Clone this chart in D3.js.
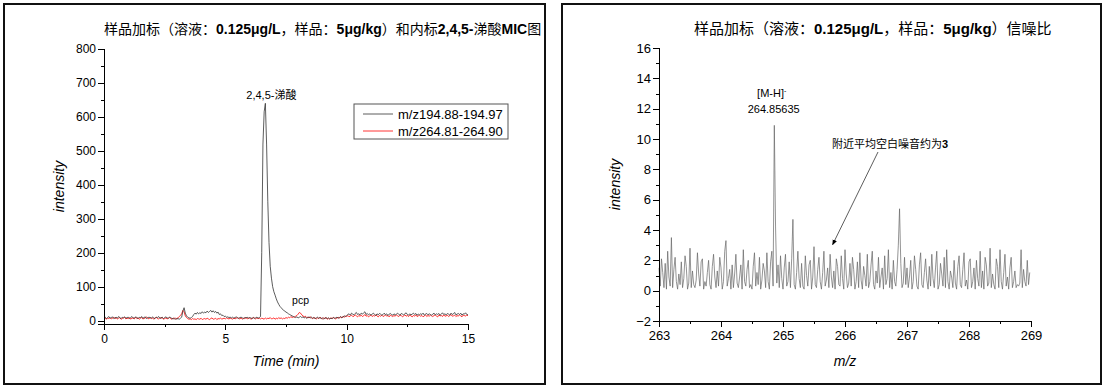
<!DOCTYPE html>
<html>
<head>
<meta charset="utf-8">
<script src="https://cdn.jsdelivr.net/npm/d3@7"></script>
<style>
  body { margin: 0; background: #fff; }
  svg { display: block; }
  .axis path, .axis line { stroke: #000; stroke-width: 1; shape-rendering: crispEdges; }
  .axis text { font-family: "Liberation Sans", Arial, sans-serif; fill: #000; }
  .cjk { font-family: "Noto Sans CJK SC", sans-serif; }
  .lat { font-family: "Liberation Sans", Arial, sans-serif; }
</style>
</head>
<body>
<div id="chart-area"></div>
<script>
// ---- left panel: extracted ion chromatograms, sampled every 0.05 min from 0 to 15 ----
const ticStart = 0;
const ticStep = 0.05;

const blackSeries = [
  // 0.00 - 3.15
  8,10,6,9,12,7,9,11,6,8,10,7,12,9,6,10,8,11,7,9,
  10,6,9,12,8,7,11,9,6,10,8,12,7,9,11,6,8,10,9,7,
  11,8,6,10,9,12,7,8,10,6,9,11,8,7,10,9,6,5,7,4,
  5,6,4,7,
  // 3.20 - 5.20
  10,28,38,22,14,10,8,7,9,12,18,22,19,24,20,23,21,26,22,25,
  23,28,24,27,30,25,29,24,27,22,25,18,20,15,16,12,13,10,11,9,10,
  // 5.25 - 6.40
  8,10,7,9,11,8,7,9,10,8,6,9,8,10,7,9,8,6,9,7,8,10,7,9,
  // 6.45 - 8.50
  12,200,520,615,640,520,350,230,160,125,100,85,75,64,55,48,42,38,34,30,
  28,25,23,20,18,16,14,12,11,9,11,8,10,12,9,11,8,10,7,9,11,8,
  // 8.55 - 9.95
  10,7,9,6,8,10,7,9,6,8,5,7,9,6,8,5,7,6,9,7,8,10,7,9,12,8,11,14,12,
  // 10.00 - 15.00
  15,18,20,16,22,19,17,21,24,18,20,17,22,19,23,26,18,21,17,20,
  16,19,22,18,15,20,17,21,19,16,18,22,17,20,15,19,21,18,16,20,
  17,19,22,18,16,21,19,17,20,23,18,16,20,17,19,22,18,21,16,19,
  17,20,18,22,16,19,21,17,20,18,16,19,22,17,20,18,21,16,19,23,
  18,20,17,21,19,16,22,18,20,24,17,19,21,18,22,16,20,19,23,18,17
];

const redSeries = [
  // 0.00 - 3.15
  5,7,4,8,6,9,5,7,10,6,8,5,7,9,4,6,8,10,5,7,
  6,9,4,8,7,5,10,6,8,4,7,9,5,6,8,11,7,5,9,6,
  8,4,7,10,6,5,8,7,9,4,6,8,5,7,9,6,4,8,5,7,
  6,8,12,15,
  // 3.20 - 5.20
  20,30,26,14,9,6,4,5,3,6,4,5,3,6,5,4,7,3,5,6,
  4,7,5,3,6,8,4,5,7,3,6,5,8,4,6,7,5,8,6,5,7,
  // 5.25 - 6.40
  6,4,8,5,7,9,6,5,8,4,7,6,9,5,7,8,4,6,9,7,5,8,6,7,
  // 6.45 - 8.50
  5,7,6,4,8,5,7,6,9,5,6,8,4,7,5,9,6,8,5,7,
  6,9,7,10,8,12,9,11,10,13,15,19,24,22,17,14,11,13,9,10,8,11,
  // 8.55 - 9.95
  8,6,9,7,5,8,6,10,7,5,8,6,9,4,7,5,8,6,9,7,5,8,10,7,11,9,12,10,13,
  // 10.00 - 15.00
  12,15,11,14,16,12,13,17,14,11,15,13,16,12,14,18,13,15,11,14,
  16,12,15,13,17,14,11,15,13,16,12,14,17,13,15,11,16,14,12,15,
  13,17,14,12,16,15,11,14,17,13,15,12,16,14,11,15,13,17,12,14,
  16,13,15,11,14,17,12,15,13,16,14,12,15,17,13,11,16,14,15,12,
  17,13,14,16,12,15,18,13,14,16,12,15,13,17,14,11,16,15,13,17,14
];

const ticSeriesNames = ['m/z194.88-194.97', 'm/z264.81-264.90'];
const ticColors = ['#333333', '#ff0000'];
const ticYTicks = [0, 100, 200, 300, 400, 500, 600, 700, 800];
const ticXTicks = [0, 5, 10, 15];

// ---- right panel: mass spectrum, every 0.02 from 263.00 ----
const msStart = 263;
const msStep = 0.02;
const msSeries = [
  1.5,0.3,2.1,1.2,0.2,1.8,0.1,2.6,0.9,0.3,3.5,0.2,1.4,2.2,0.6,0.1,1.1,0.4,1.9,0.2,
  0.8,2.3,1.6,0.1,0.5,2.8,0.2,1.3,0.4,0.2,0.7,2.5,1.1,0.3,1.9,2.1,0.1,0.6,0.3,1.2,
  2.0,0.4,0.1,1.6,2.4,0.9,0.2,1.3,0.3,2.2,1.5,0.1,0.6,2.6,3.3,0.3,0.8,1.4,0.1,1.7,
  0.2,1.1,2.4,0.5,0.2,0.9,1.7,0.1,2.7,0.6,0.3,1.4,2.0,0.2,0.4,0.1,1.6,2.5,0.3,1.2,
  0.4,2.2,0.1,0.7,1.8,1.3,0.2,2.5,0.6,0.1,1.9,2.6,0.3,10.9,4.2,0.5,1.7,0.2,2.3,0.8,
  0.1,1.5,2.4,0.3,0.6,1.9,0.2,2.1,4.7,0.4,0.1,1.2,2.6,0.8,0.2,1.8,0.3,0.1,2.3,1.0,
  0.3,1.7,2.0,0.1,0.9,2.9,0.4,0.2,1.4,2.2,0.6,0.1,1.2,2.6,0.3,0.7,1.5,0.2,2.4,0.9,
  0.2,1.3,0.1,2.1,1.6,0.4,0.3,2.3,0.8,0.1,2.7,1.1,0.2,0.5,1.8,0.3,2.2,1.4,0.1,0.6,
  1.9,0.2,2.5,0.7,0.1,1.6,1.0,0.3,2.4,0.2,0.6,1.7,2.6,0.4,0.1,1.3,0.5,2.2,0.2,0.9,
  1.5,0.1,2.3,0.4,0.8,2.7,0.2,1.2,0.1,2.0,0.6,0.3,1.4,3.0,5.4,1.8,0.2,0.5,2.2,0.4,
  1.5,0.2,0.9,2.0,0.1,0.6,2.3,1.4,0.3,0.1,1.7,2.5,0.4,0.2,1.2,2.1,0.7,0.1,1.6,0.3,
  2.4,0.8,0.2,1.5,2.6,0.1,0.4,1.8,1.1,0.3,2.2,0.2,2.7,0.6,0.1,1.3,0.9,0.2,2.0,0.5,
  0.1,1.6,2.3,0.4,0.2,1.4,2.5,0.3,0.7,0.1,1.9,2.1,0.2,0.6,1.5,0.1,2.0,0.8,0.3,2.6,
  0.2,1.3,0.1,2.2,1.7,0.3,0.5,2.8,0.2,1.1,0.4,0.1,2.1,1.6,0.2,2.7,0.6,0.1,1.2,2.4,
  0.3,0.9,0.1,1.5,2.2,0.2,0.6,1.3,0.2,0.4,0.3,0.5,2.7,0.2,1.4,0.6,0.3,2.0,0.4,1.2
];
const msYTicks = [-2, 0, 2, 4, 6, 8, 10, 12, 14, 16];
const msXTicks = [263, 264, 265, 266, 267, 268, 269];
const msPeak = { mz: 264.85635, label: '[M-H]', value: 10.9 };
const noiseNote = { text: '附近平均空白噪音约为3', mz: 265.8, value: 2.9 };

const svg = d3.select('#chart-area').append('svg')
  .attr('width', 1105)
  .attr('height', 387);

// panel frames
const frames = [[4, 4, 541, 380], [562, 4, 539, 380]];
svg.selectAll('rect.frame').data(frames).enter().append('rect')
  .attr('class', 'frame')
  .attr('x', d => d[0]).attr('y', d => d[1])
  .attr('width', d => d[2]).attr('height', d => d[3])
  .attr('fill', 'none').attr('stroke', '#111').attr('stroke-width', 2);

const addTitle = (x, size, parts) => {
  const t = svg.append('text').attr('x', x).attr('y', 34).attr('font-size', size);
  parts.forEach(([s, bold]) => {
    t.append('tspan')
      .attr('class', bold ? 'lat' : 'cjk')
      .attr('font-weight', bold ? 'bold' : 'normal')
      .text(s);
  });
};

// draw an Origin-style axis with major + minor ticks pointing outward
const drawAxis = (g, scale, orient, majors, minorStep, fontSize, translate) => {
  const axisFn = orient === 'left' ? d3.axisLeft : d3.axisBottom;
  const [d0, d1] = d3.extent(majors);
  const minors = d3.range(d0, d1 + 1e-9, minorStep).filter(v => !majors.some(m => Math.abs(m - v) < 1e-9));
  const ag = g.append('g').attr('class', 'axis').attr('transform', translate);
  ag.call(axisFn(scale).tickValues(minors).tickSize(3).tickFormat(''));
  const mg = g.append('g').attr('class', 'axis').attr('transform', translate);
  mg.call(axisFn(scale).tickValues(majors).tickSize(6).tickFormat(d3.format('d'))
    .tickPadding(orient === 'left' ? 2 : 4));
  mg.selectAll('text').attr('font-size', fontSize);
  return mg;
};

// ================= left panel =================
addTitle(104, 14, [['样品加标（溶液：', false], ['0.125μg/L', true], ['，样品：', false], ['5μg/kg', true],
  ['）和内标', false], ['2,4,5-', true], ['涕酸', false], ['MIC', true], ['图', false]]);

const xL = d3.scaleLinear().domain([0, 15]).range([104, 468]);
const yL = d3.scaleLinear().domain([-10, 800]).range([324, 49]);
const gL = svg.append('g');

const ticLine = d3.line()
  .x((d, i) => xL(ticStart + i * ticStep))
  .y(d => yL(d));

[redSeries, blackSeries].forEach((s, k) => {
  gL.append('path')
    .attr('d', ticLine(s))
    .attr('fill', 'none')
    .attr('stroke', k === 0 ? ticColors[1] : ticColors[0])
    .attr('stroke-width', 0.8)
    .attr('stroke-linejoin', 'round');
});

drawAxis(gL, yL, 'left', ticYTicks, 50, 12, `translate(${xL(0)},0)`);
drawAxis(gL, xL, 'bottom', ticXTicks, 2.5, 12, `translate(0,${yL(-10)})`);
gL.selectAll('.axis .domain').attr('stroke-width', 1.2);

gL.append('text').attr('class', 'lat')
  .attr('transform', `translate(64,${(yL(800) + yL(-10)) / 2}) rotate(-90)`)
  .attr('text-anchor', 'middle').attr('font-size', 14).attr('font-style', 'italic')
  .text('intensity');
gL.append('text').attr('class', 'lat')
  .attr('x', (xL(0) + xL(15)) / 2).attr('y', 366)
  .attr('text-anchor', 'middle').attr('font-size', 14).attr('font-style', 'italic')
  .text('Time (min)');

// peak labels
const peakT = ticStart + blackSeries.indexOf(d3.max(blackSeries)) * ticStep;
gL.append('text')
  .attr('x', xL(peakT) + 6).attr('y', yL(d3.max(blackSeries)) - 4)
  .attr('text-anchor', 'middle').attr('font-size', 11)
  .call(t => {
    t.append('tspan').attr('class', 'lat').text('2,4,5-');
    t.append('tspan').attr('class', 'cjk').text('涕酸');
  });
gL.append('text').attr('class', 'lat')
  .attr('x', xL(8.1)).attr('y', yL(48)).attr('text-anchor', 'middle')
  .attr('font-size', 10.5).text('pcp');

// legend
const leg = gL.append('g').attr('transform', 'translate(354,104)');
leg.append('rect').attr('width', 154).attr('height', 35)
  .attr('fill', '#fff').attr('stroke', '#555').attr('stroke-width', 1);
ticSeriesNames.forEach((name, i) => {
  const y = 10 + i * 17;
  leg.append('line').attr('x1', 9).attr('x2', 39).attr('y1', y).attr('y2', y)
    .attr('stroke', ticColors[i]).attr('stroke-width', 0.8);
  leg.append('text').attr('class', 'lat').attr('x', 44).attr('y', y + 5)
    .attr('font-size', 13).text(name);
});

// ================= right panel =================
addTitle(694, 15, [['样品加标（溶液：', false], ['0.125μg/L', true], ['，样品：', false], ['5μg/kg', true],
  ['）信噪比', false]]);

const xR = d3.scaleLinear().domain([263, 269]).range([659, 1031]);
const yR = d3.scaleLinear().domain([-2, 16]).range([321, 48]);
const gR = svg.append('g');

const msLine = d3.line()
  .x((d, i) => xR(msStart + i * msStep))
  .y(d => yR(d));
gR.append('path')
  .attr('d', msLine(msSeries))
  .attr('fill', 'none').attr('stroke', '#666').attr('stroke-width', 0.7);

drawAxis(gR, yR, 'left', msYTicks, 1, 13, `translate(${xR(263)},0)`);
drawAxis(gR, xR, 'bottom', msXTicks, 0.5, 13, `translate(0,${yR(-2)})`);
gR.selectAll('.axis .domain').attr('stroke-width', 1.2);

gR.append('text').attr('class', 'lat')
  .attr('transform', `translate(620,${(yR(16) + yR(-2)) / 2}) rotate(-90)`)
  .attr('text-anchor', 'middle').attr('font-size', 14).attr('font-style', 'italic')
  .text('intensity');
gR.append('text').attr('class', 'lat')
  .attr('x', (xR(263) + xR(269)) / 2).attr('y', 366)
  .attr('text-anchor', 'middle').attr('font-size', 14).attr('font-style', 'italic')
  .text('m/z');

// molecular ion label
const pk = gR.append('g').attr('class', 'lat').attr('font-size', 11).attr('text-anchor', 'middle');
pk.append('text').attr('x', xR(264.85) - 2).attr('y', yR(msPeak.value) - 28)
  .call(t => {
    t.append('tspan').text(msPeak.label);
    t.append('tspan').attr('font-size', 7).attr('dy', -4).text('-');
  });
pk.append('text').attr('x', xR(264.85)).attr('y', yR(msPeak.value) - 12).text(msPeak.mz.toFixed(5));

// noise annotation with arrow
svg.append('defs').append('marker')
  .attr('id', 'arrow').attr('viewBox', '0 0 10 10').attr('refX', 9).attr('refY', 5)
  .attr('markerWidth', 7).attr('markerHeight', 7).attr('orient', 'auto')
  .append('path').attr('d', 'M0,1 L10,5 L0,9 Z').attr('fill', '#000');
gR.append('text').attr('class', 'cjk')
  .attr('x', 832).attr('y', 148).attr('font-size', 11)
  .call(t => {
    t.append('tspan').text(noiseNote.text.slice(0, -1));
    t.append('tspan').attr('class', 'lat').attr('font-weight', 'bold').text(noiseNote.text.slice(-1));
  });
gR.append('line')
  .attr('x1', 878).attr('y1', 152)
  .attr('x2', xR(noiseNote.mz)).attr('y2', yR(noiseNote.value) - 2)
  .attr('stroke', '#333').attr('stroke-width', 0.8)
  .attr('marker-end', 'url(#arrow)');
</script>
</body>
</html>
